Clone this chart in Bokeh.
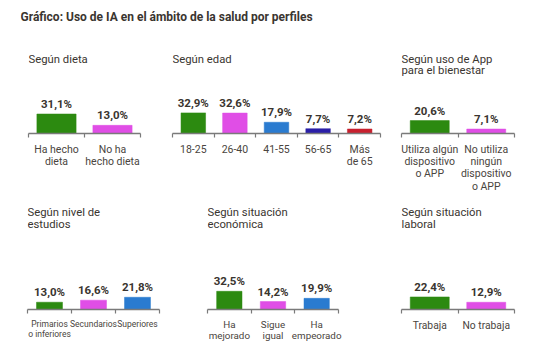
from bokeh.plotting import figure
from bokeh.layouts import column, row
from bokeh.models import Range1d, FixedTicker, ColumnDataSource
from bokeh.core.properties import value
from bokeh.embed import file_html
from bokeh.resources import INLINE

# ---- data ----
main_title = "Gráfico: Uso de IA en el ámbito de la salud por perfiles"

t_dieta = ["Según dieta"]
c_dieta = ["Ha hecho\ndieta", "No ha\nhecho dieta"]
v_dieta = [31.1, 13.0]

t_edad = ["Según edad"]
c_edad = ["18-25", "26-40", "41-55", "56-65", "Más\nde 65"]
v_edad = [32.9, 32.6, 17.9, 7.7, 7.2]

t_app = ["Según uso de App", "para el bienestar"]
c_app = ["Utiliza algún\ndispositivo\no APP", "No utiliza\nningún\ndispositivo\no APP"]
v_app = [20.6, 7.1]

t_estudios = ["Según nivel de", "estudios"]
c_estudios = ["Primarios\no inferiores", "Secundarios", "Superiores"]
v_estudios = [13.0, 16.6, 21.8]

t_eco = ["Según situación", "económica"]
c_eco = ["Ha\nmejorado", "Sigue\nigual", "Ha\nempeorado"]
v_eco = [32.5, 14.2, 19.9]

t_lab = ["Según situación", "laboral"]
c_lab = ["Trabaja", "No trabaja"]
v_lab = [22.4, 12.9]

GREEN, MAGENTA, BLUE, INDIGO, RED = "#2c8a10", "#e04ee6", "#2a7bd0", "#2b1fa8", "#c8202e"
TXT = "#3a3530"
LBL = "#4a4540"
FONT = "Roboto"


def fmt(v):
    return f"{v:.1f}%".replace(".", ",")


def panel(title_lines, cats, vals, colors, fig_w, fig_h, bl, br, bt, bb,
          px_per_unit, bar_w, cat_font, cat_lh):
    frame_h = fig_h - bt - bb
    ymax = frame_h / px_per_unit
    n = len(cats)
    p = figure(width=fig_w, height=fig_h, output_backend="svg", toolbar_location=None,
               x_range=Range1d(0, n), y_range=Range1d(0, ymax),
               y_axis_location=None, min_border_left=bl, min_border_right=br,
               min_border_top=bt, min_border_bottom=bb)
    p.outline_line_color = None
    p.grid.visible = False
    p.background_fill_color = None
    p.border_fill_color = None

    centers = [i + 0.5 for i in range(n)]
    src = ColumnDataSource(dict(x=centers, top=vals, color=colors,
                                lab=[fmt(v) for v in vals],
                                ly=[v + 3.0 / px_per_unit for v in vals]))
    p.vbar(x="x", top="top", width=bar_w, bottom=0, source=src,
           fill_color="color", line_color="color", line_alpha=0.5, line_width=1)
    p.text(x="x", y="ly", text="lab", source=src, text_align="center",
           text_baseline="bottom", text_font=value(FONT), text_font_style="bold",
           text_font_size="11.5px", text_color=TXT)

    # titles inside top of frame
    for k, t in enumerate(title_lines):
        p.text(x=[0], y=[ymax - k * 12 / px_per_unit], text=[t], text_align="left",
               text_baseline="top", text_font=value(FONT), text_font_size="11.3px",
               text_color=TXT)

    ax = p.xaxis[0]
    ax.ticker = FixedTicker(ticks=centers, minor_ticks=list(range(n + 1)))
    ax.major_label_overrides = {c: lab for c, lab in zip(centers, cats)}
    ax.major_tick_out = 0
    ax.major_tick_in = 0
    ax.minor_tick_out = 4
    ax.minor_tick_in = 0
    ax.minor_tick_line_color = "#7a7a7a"
    ax.axis_line_color = "#7a7a7a"
    ax.axis_line_width = 1.5
    ax.minor_tick_line_width = 1.2
    ax.major_label_standoff = 5
    ax.major_label_text_font = FONT
    ax.major_label_text_font_size = cat_font
    ax.major_label_text_color = LBL
    ax.major_label_text_line_height = cat_lh
    return p


# header
h = figure(width=528, height=40, output_backend="svg", toolbar_location=None,
           x_range=Range1d(0, 1), y_range=Range1d(0, 1), x_axis_location=None,
           y_axis_location=None, min_border_left=20, min_border_right=0,
           min_border_top=8, min_border_bottom=0)
h.outline_line_color = None
h.grid.visible = False
h.text(x=[0], y=[0.75], text=[main_title], text_align="left", text_baseline="middle",
       text_font=value(FONT), text_font_size="12px", text_font_style="bold",
       text_color=TXT)

R1 = 0.65
R2 = 0.56
# row 1: frames 28-140, 172-380, 401-514
p1 = panel(t_dieta, c_dieta, v_dieta, [GREEN, MAGENTA], 165, 155, 28, 25, 12, 59,
           R1, 0.70, "10.5px", 0.95)
p2 = panel(t_edad, c_edad, v_edad, [GREEN, MAGENTA, BLUE, INDIGO, RED], 225, 155, 7, 10, 12, 59,
           R1, 0.59, "10.5px", 0.95)
p3 = panel(t_app, c_app, v_app, [GREEN, MAGENTA], 138, 155, 11, 14, 12, 59,
           R1, 0.69, "10.5px", 0.95)
# row 2: frames 27-159, 207-338, 401-514
p4 = panel(t_estudios, c_estudios, v_estudios, [GREEN, MAGENTA, BLUE], 180, 160, 27, 21, 10, 46,
           R2, 0.59, "8.5px", 1.0)
p5 = panel(t_eco, c_eco, v_eco, [GREEN, MAGENTA, BLUE], 172, 160, 27, 14, 10, 46,
           R2, 0.58, "9.8px", 1.05)
p6 = panel(t_lab, c_lab, v_lab, [GREEN, MAGENTA], 166, 160, 49, 4, 10, 46,
           R2, 0.69, "10.3px", 1.0)

layout = column(h, row(p1, p2, p3), row(p4, p5, p6))
open("out.html", "w").write(file_html(layout, INLINE))
